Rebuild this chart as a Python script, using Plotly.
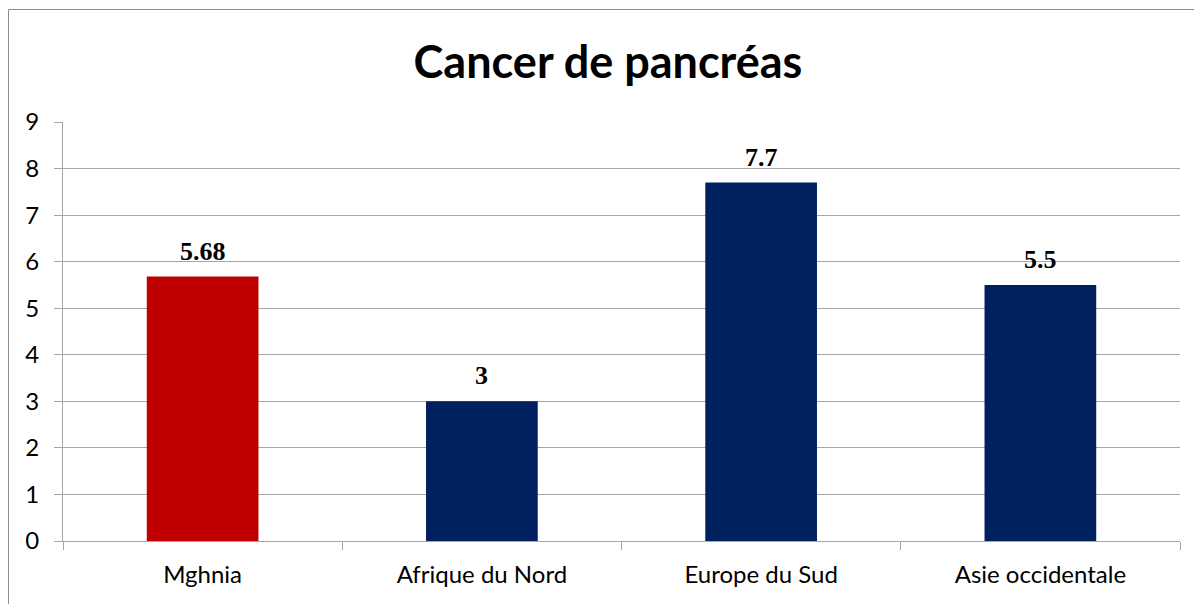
import plotly.graph_objects as go

categories = ["Mghnia", "Afrique du Nord", "Europe du Sud", "Asie occidentale"]
values = [5.68, 3, 7.7, 5.5]
labels = ["5.68", "3", "7.7", "5.5"]
colors = ["#C00000", "#002060", "#002060", "#002060"]

fig = go.Figure(go.Bar(
    x=categories, y=values, width=0.4,
    marker=dict(color=colors, line=dict(width=0)),
))

# page body has an 8px margin, so figure coordinates are offset by 8px
OFF = 8
W, H = 1202 - OFF, 604 - OFF
ml, mr, mt, mb = 63 - OFF, 1202 - 1180, 122 - OFF, 604 - 541
pw, ph = W - ml - mr, H - mt - mb

def px(x):
    return (x - OFF - ml) / pw

def py(y):
    return (H - mb - (y - OFF)) / ph

annotations = [
    dict(x=c, y=v, text="<b>%s</b>" % t, showarrow=False, xref="x", yref="y",
         yanchor="bottom", yshift=9,
         font=dict(family="Liberation Serif", size=26, color="black"))
    for c, v, t in zip(categories, values, labels)
]

fig.update_layout(
    width=W, height=H,
    margin=dict(l=ml, r=mr, t=mt, b=mb),
    paper_bgcolor="white", plot_bgcolor="white",
    title=dict(text="<b>Cancer de pancréas</b>", x=px(608), xref="paper", xanchor="center",
               y=1 - (62 - OFF) / H, yanchor="middle",
               font=dict(family="Lato", size=45, color="black")),
    font=dict(family="Lato", size=24, color="black"),
    showlegend=False,
    bargap=0.6,
    annotations=annotations,
    xaxis=dict(showline=True, linecolor="#A6A6A6", linewidth=1,
               ticks="outside", ticklen=8, tickcolor="#A6A6A6",
               tickson="boundaries", tickfont=dict(size=24), ticklabelstandoff=12),
    yaxis=dict(range=[0, 9], dtick=1, showgrid=True, gridcolor="#A6A6A6", gridwidth=1,
               showline=True, linecolor="#A6A6A6", linewidth=1,
               ticks="outside", ticklen=8, tickcolor="#A6A6A6",
               zeroline=False, tickfont=dict(size=24), ticklabelstandoff=10),
    shapes=[dict(type="rect", xref="paper", yref="paper",
                 x0=px(8.5), x1=px(1215), y0=py(620), y1=py(9.5),
                 line=dict(color="#8C8C8C", width=1), fillcolor="rgba(0,0,0,0)", layer="below")],
)

fig.write_html("out.html")
